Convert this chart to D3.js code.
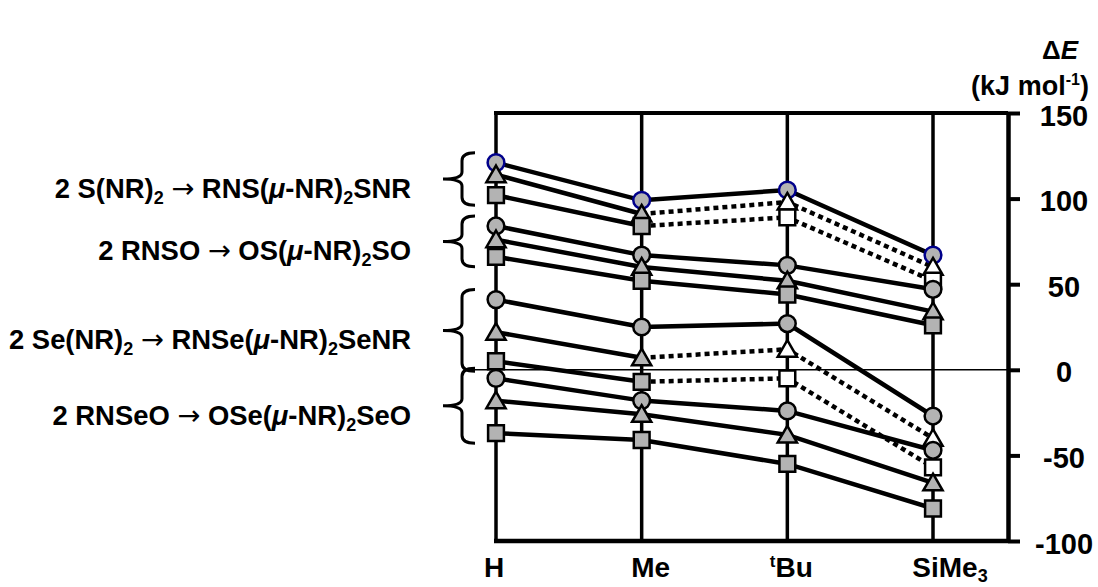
<!DOCTYPE html>
<html>
<head>
<meta charset="utf-8">
<script src="https://cdn.jsdelivr.net/npm/d3@7"></script>
<style>
    body { margin: 0; background: #fff; }
    text { font-family: "Liberation Sans", Arial, Helvetica, sans-serif; font-weight: bold; fill: #000; }
</style>
</head>
<body>
<div id="chart"></div>
<script>
// substituents on the x axis
var categories = ["H", "Me", "tBu", "SiMe3"];
var yTicks = [-100, -50, 0, 50, 100, 150];

// dE (kJ/mol) for the four dimerisations, three levels of theory each
var sCircle = [121, 99, 105, 67];
var sTriangle = [114, 91, 98, 60];
var sSquare = [102, 84, 89, 52];

var soCircle = [84, 67, 61, 47];
var soTriangle = [76, 60, 52, 34];
var soSquare = [66, 52, 44, 26];

var seCircle = [41, 25, 27, -27];
var seTriangle = [22, 7, 12, -40];
var seSquare = [5, -7, -5, -57];

var seoCircle = [-5, -18, -24, -47];
var seoTriangle = [-18, -26, -38, -66];
var seoSquare = [-37, -41, -55, -81];

function init() {
    var w = 1098;
    var h = 587;

    var svg = d3.select("#chart")
        .append("svg")
        .attr("width", w)
        .attr("height", h);

    var xScale = d3.scalePoint()
        .domain(categories)
        .range([496, 933]);

    var yScale = d3.scaleLinear()
        .domain([-100, 150])
        .range([541, 113]);

    var left = 496, right = 1008;

    // series table (estimated points drawn dotted with white markers)
    var groups = [
        { label: ["2 S(NR)", "2", " ", "\u2192", " RNS(", "\u03BC", "-NR)", "2", "SNR"],
          series: [
            { v: sCircle, shape: "circle", navy: true },
            { v: sTriangle, shape: "triangle", open: true },
            { v: sSquare, shape: "square", open: true }] },
        { label: ["2 RNSO ", "\u2192", " OS(", "\u03BC", "-NR)", "2", "SO"],
          series: [
            { v: soCircle, shape: "circle" },
            { v: soTriangle, shape: "triangle" },
            { v: soSquare, shape: "square" }] },
        { label: ["2 Se(NR)", "2", " ", "\u2192", " RNSe(", "\u03BC", "-NR)", "2", "SeNR"],
          series: [
            { v: seCircle, shape: "circle" },
            { v: seTriangle, shape: "triangle", open: true },
            { v: seSquare, shape: "square", open: true }] },
        { label: ["2 RNSeO ", "\u2192", " OSe(", "\u03BC", "-NR)", "2", "SeO"],
          series: [
            { v: seoCircle, shape: "circle" },
            { v: seoTriangle, shape: "triangle" },
            { v: seoSquare, shape: "square" }] }
    ];

    // frame: top border, bottom axis, vertical category lines
    svg.append("line")
        .attr("x1", left - 2).attr("x2", right)
        .attr("y1", yScale(150)).attr("y2", yScale(150))
        .attr("stroke", "#000").attr("stroke-width", 4);

    svg.append("line")
        .attr("x1", left - 2).attr("x2", right)
        .attr("y1", yScale(-100)).attr("y2", yScale(-100))
        .attr("stroke", "#000").attr("stroke-width", 4.5);

    svg.selectAll(".vline")
        .data(categories)
        .enter()
        .append("line")
        .attr("class", "vline")
        .attr("x1", function (d) { return xScale(d); })
        .attr("x2", function (d) { return xScale(d); })
        .attr("y1", yScale(150))
        .attr("y2", yScale(-100))
        .attr("stroke", "#000")
        .attr("stroke-width", 3.5);

    // zero line
    svg.append("line")
        .attr("x1", 470).attr("x2", right)
        .attr("y1", yScale(0)).attr("y2", yScale(0))
        .attr("stroke", "#000").attr("stroke-width", 1.5);

    // right y axis
    var yAxis = d3.axisRight(yScale)
        .tickValues(yTicks)
        .tickSize(12)
        .tickSizeOuter(0)
        .tickFormat(function (d) { return String(d); });

    var gy = svg.append("g")
        .attr("transform", "translate(" + right + ",0)")
        .call(yAxis);
    gy.select(".domain").attr("stroke-width", 4.5);
    gy.selectAll(".tick line").attr("stroke-width", 4);
    gy.selectAll(".tick text")
        .attr("x", 56)
        .attr("dy", "0.42em")
        .attr("text-anchor", "middle")
        .style("font-size", "29px")
        .style("font-family", "'Liberation Sans', Arial, sans-serif")
        .style("font-weight", "bold");

    // axis title
    var t1 = svg.append("text")
        .attr("x", 1060).attr("y", 59)
        .attr("text-anchor", "middle")
        .style("font-size", "26px");
    t1.append("tspan").text("\u0394");
    t1.append("tspan").style("font-style", "italic").text("E");

    var t2 = svg.append("text")
        .attr("x", 1030).attr("y", 95)
        .attr("text-anchor", "middle")
        .style("font-size", "27px");
    t2.append("tspan").text("(kJ mol");
    t2.append("tspan").attr("dy", -10).style("font-size", "16px").text("-1");
    t2.append("tspan").attr("dy", 10).text(")");

    // x category labels
    var labelShift = { "H": -2, "Me": 9, "tBu": 4, "SiMe3": 17 };
    svg.selectAll(".xlab")
        .data(categories)
        .enter()
        .append("text")
        .attr("class", "xlab")
        .attr("x", function (d) { return xScale(d) + labelShift[d]; })
        .attr("y", 577)
        .attr("text-anchor", "middle")
        .style("font-size", "28px")
        .each(function (d) {
            var t = d3.select(this);
            if (d === "tBu") {
                t.append("tspan").attr("dy", -10).style("font-size", "17px").text("t");
                t.append("tspan").attr("dy", 10).text("Bu");
            } else if (d === "SiMe3") {
                t.append("tspan").text("SiMe");
                t.append("tspan").attr("dy", 5).style("font-size", "18px").text("3");
            } else {
                t.text(d);
            }
        });

    // lines
    var lineGen = d3.line()
        .x(function (d) { return xScale(d.c); })
        .y(function (d) { return yScale(d.v); });

    var symbolSize = { circle: 220, triangle: 160, square: 250 };
    var symbolType = { circle: d3.symbolCircle, triangle: d3.symbolTriangle, square: d3.symbolSquare };

    groups.forEach(function (g) {
        g.series.forEach(function (s) {
            var pts = s.v.map(function (v, i) { return { c: categories[i], v: v }; });
            if (s.open) {
                svg.append("path")
                    .datum(pts.slice(0, 2))
                    .attr("d", lineGen)
                    .attr("fill", "none")
                    .attr("stroke", "#000")
                    .attr("stroke-width", 4.5);
                svg.append("path")
                    .datum(pts.slice(1))
                    .attr("d", lineGen)
                    .attr("fill", "none")
                    .attr("stroke", "#000")
                    .attr("stroke-width", 4.5)
                    .attr("stroke-dasharray", "5,4");
            } else {
                svg.append("path")
                    .datum(pts)
                    .attr("d", lineGen)
                    .attr("fill", "none")
                    .attr("stroke", "#000")
                    .attr("stroke-width", 4.5);
            }
        });
    });

    // markers
    groups.forEach(function (g) {
        g.series.forEach(function (s) {
            svg.selectAll(null)
                .data(s.v)
                .enter()
                .append("path")
                .attr("transform", function (d, i) {
                    var dy = s.shape === "triangle" ? 2 : 0;
                    return "translate(" + xScale(categories[i]) + "," + (yScale(d) + dy) + ")";
                })
                .attr("d", d3.symbol().type(symbolType[s.shape]).size(symbolSize[s.shape]))
                .attr("fill", function (d, i) { return (s.open && i >= 2) ? "#fff" : "#b3b3b3"; })
                .attr("stroke", s.navy ? "#00008b" : "#000")
                .attr("stroke-width", 2.5);
        });
    });

    // braces and reaction labels
    groups.forEach(function (g) {
        var hv = g.series.map(function (s) { return s.v[0]; });
        var top = yScale(d3.max(hv)) - 10;
        var bot = yScale(d3.min(hv)) + 10;
        var mid = (top + bot) / 2;
        var xr = 475, xv = 462, xt = 443;
        var p = "M" + xr + "," + top +
            " Q" + xv + "," + top + " " + xv + "," + (top + 8) +
            " L" + xv + "," + (mid - 7) +
            " Q" + xv + "," + mid + " " + xt + "," + mid +
            " Q" + xv + "," + mid + " " + xv + "," + (mid + 7) +
            " L" + xv + "," + (bot - 8) +
            " Q" + xv + "," + bot + " " + xr + "," + bot;
        svg.append("path")
            .attr("d", p)
            .attr("fill", "none")
            .attr("stroke", "#000")
            .attr("stroke-width", 3);

        var t = svg.append("text")
            .attr("x", 411)
            .attr("y", mid + 19)
            .attr("text-anchor", "end")
            .style("font-size", "27.4px");
        var sub = false;
        g.label.forEach(function (part) {
            var ts = t.append("tspan").text(part);
            if (part === "2") {
                ts.attr("dy", 6).style("font-size", "18px");
                sub = true;
            } else {
                if (sub) { ts.attr("dy", -6); sub = false; }
                if (part === "\u03BC") ts.style("font-style", "italic");
                if (part === "\u2192") ts.style("font-family", "'DejaVu Sans', sans-serif").style("font-weight", "normal");
            }
        });
    });
}

window.onload = init;
</script>
</body>
</html>
